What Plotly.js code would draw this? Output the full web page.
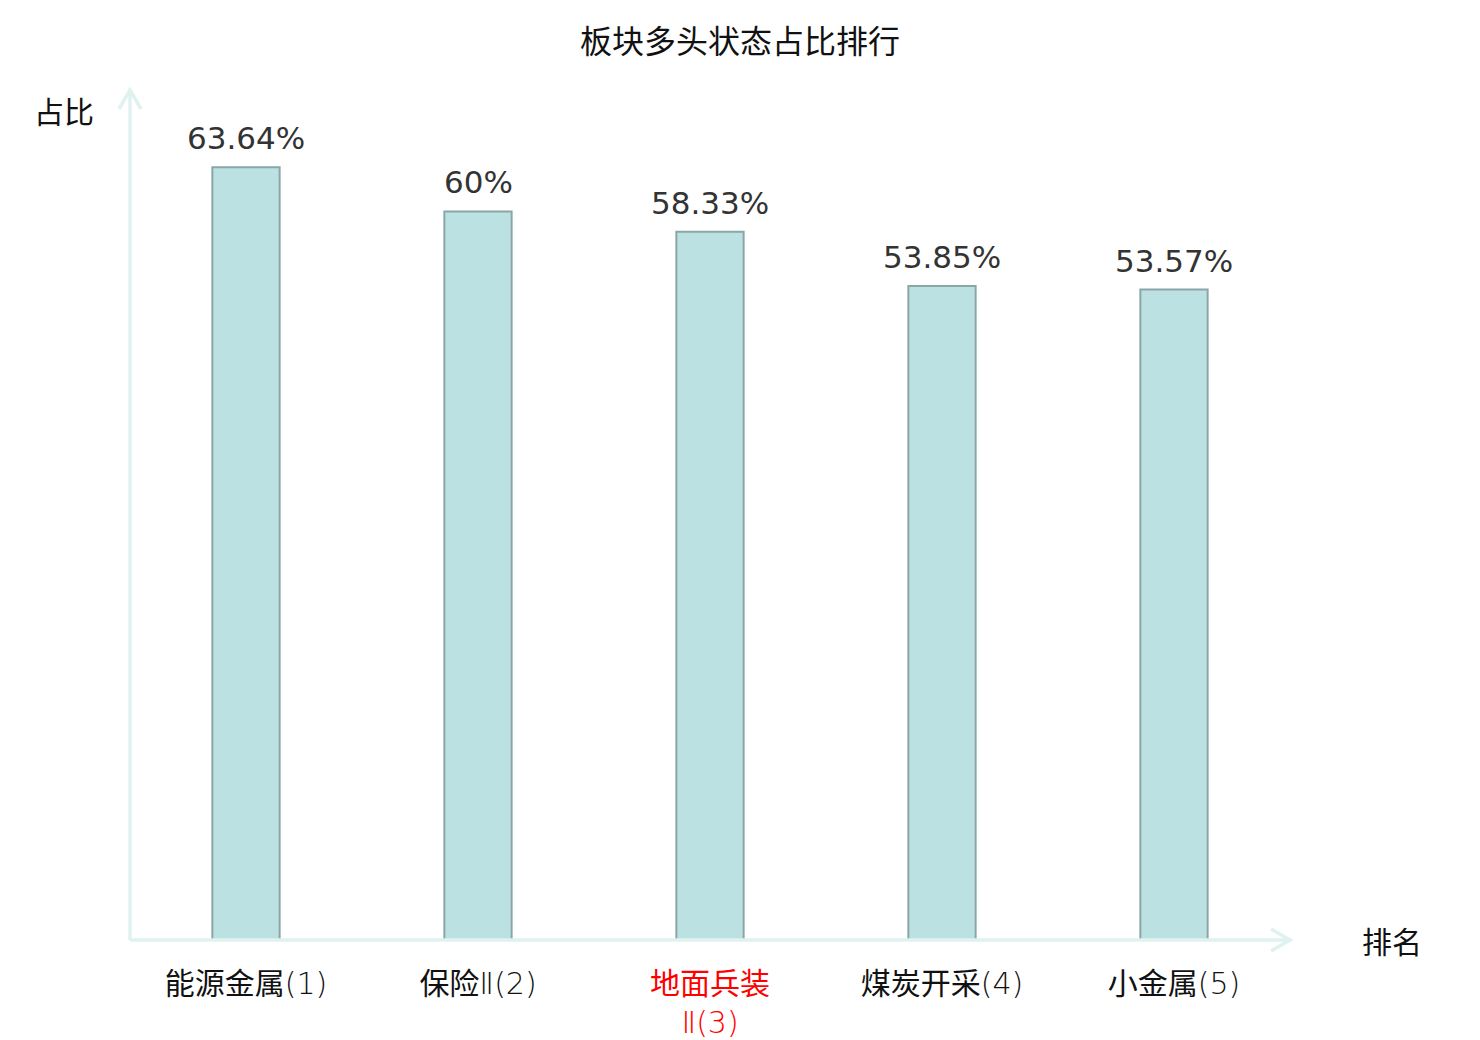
<!DOCTYPE html>
<html>
<head>
<meta charset="utf-8">
<script src="https://cdn.plot.ly/plotly-3.0.1.min.js"></script>
<style>
  html, body { margin: 0; padding: 0; background: #fff; }
  #chart { width: 1480px; height: 1040px; }
</style>
</head>
<body>
<div id="chart"></div>
<script>
// 板块多头状态占比排行
const sectorNames = ['能源金属', '保险Ⅱ', '地面兵装Ⅱ', '煤炭开采', '小金属'];
const ranks = [1, 2, 3, 4, 5];
const shares = [63.64, 60, 58.33, 53.85, 53.57];
const shareLabels = ['63.64%', '60%', '58.33%', '53.85%', '53.57%'];
// the highlighted sector is drawn in red on the axis
const highlighted = [false, false, true, false, false];

const AXIS_COLOR = '#dff2f0';
const CJK_FONT = 'Noto Sans CJK SC, sans-serif';
const TICK_FONT = 'DejaVu Sans, Noto Sans CJK SC, sans-serif';

// names longer than 4 chars wrap onto a second line; latin parts are drawn thin
const tickText = sectorNames.map((name, i) => {
  let label = `${name}(${ranks[i]})`;
  label = label.replace(/[^\u4e00-\u9fff]+/g, (m) => `<span style="font-weight:200">${m}</span>`);
  if (name.length > 4) {
    label = label.replace(name.slice(0, 4), `${name.slice(0, 4)}<br>`);
  }
  return highlighted[i] ? `<span style="color:#ff0000">${label}</span>` : label;
});

const trace = {
  type: 'bar',
  x: sectorNames.map((c, i) => i),
  y: shares,
  width: 0.29,
  marker: {
    color: '#bce1e3',
    line: { color: '#8aa6a7', width: 2 },
  },
  hoverinfo: 'skip',
};

const valueLabels = shares.map((v, i) => ({
  x: i,
  y: v,
  xref: 'x',
  yref: 'y',
  text: shareLabels[i],
  showarrow: false,
  yanchor: 'bottom',
  yshift: 9,
  font: { family: 'DejaVu Sans, sans-serif', size: 31, color: '#333333' },
}));

// axis lines with open chevron heads, in pixels round the plot corners
const axisLine = { color: AXIS_COLOR, width: 3.5 };
const axisShapes = [
  {
    type: 'line', xref: 'paper', yref: 'paper', x0: 0, x1: 0, y0: 0, y1: 1, line: axisLine,
  },
  {
    type: 'line', xref: 'paper', yref: 'paper', x0: 0, x1: 1, y0: 0, y1: 0, line: axisLine,
  },
  {
    type: 'path', xref: 'paper', yref: 'paper', xsizemode: 'pixel', ysizemode: 'pixel',
    xanchor: 0, yanchor: 1, path: 'M-11,-19L0,0L11,-19', line: axisLine,
  },
  {
    type: 'path', xref: 'paper', yref: 'paper', xsizemode: 'pixel', ysizemode: 'pixel',
    xanchor: 1, yanchor: 0, path: 'M-19,11L0,0L-19,-11', line: axisLine,
  },
];

const axisNames = [
  {
    xref: 'paper', yref: 'paper', x: -0.057, y: 1.0, xanchor: 'center', yanchor: 'middle',
    yshift: -20, text: '占比', showarrow: false,
    font: { family: CJK_FONT, size: 30, color: '#111111' },
  },
  {
    xref: 'paper', yref: 'paper', x: 1.0, y: 0, xanchor: 'left', yanchor: 'middle',
    xshift: 70, text: '排名', showarrow: false,
    font: { family: CJK_FONT, size: 30, color: '#111111' },
  },
];

const layout = {
  width: 1480,
  height: 1040,
  paper_bgcolor: '#ffffff',
  plot_bgcolor: '#ffffff',
  margin: { l: 130, r: 190, t: 90, b: 100 },
  showlegend: false,
  title: {
    text: '板块多头状态占比排行',
    x: 0.5,
    xanchor: 'center',
    y: 1 - 42 / 1040,
    yanchor: 'middle',
    font: { family: CJK_FONT, size: 32, color: '#111111' },
  },
  xaxis: {
    range: [-0.5, 4.5],
    tickmode: 'array',
    tickvals: sectorNames.map((c, i) => i),
    ticktext: tickText,
    showgrid: false,
    zeroline: false,
    showline: false,
    ticks: 'outside',
    ticklen: 17,
    tickcolor: 'rgba(0,0,0,0)',
    tickfont: { family: TICK_FONT, size: 30, color: '#111111' },
    fixedrange: true,
  },
  yaxis: {
    range: [0, 70],
    showgrid: false,
    zeroline: false,
    showline: false,
    showticklabels: false,
    ticks: '',
    fixedrange: true,
  },
  shapes: axisShapes,
  annotations: [...valueLabels, ...axisNames],
};

Plotly.newPlot('chart', [trace], layout, { displayModeBar: false, staticPlot: true });
</script>
</body>
</html>
